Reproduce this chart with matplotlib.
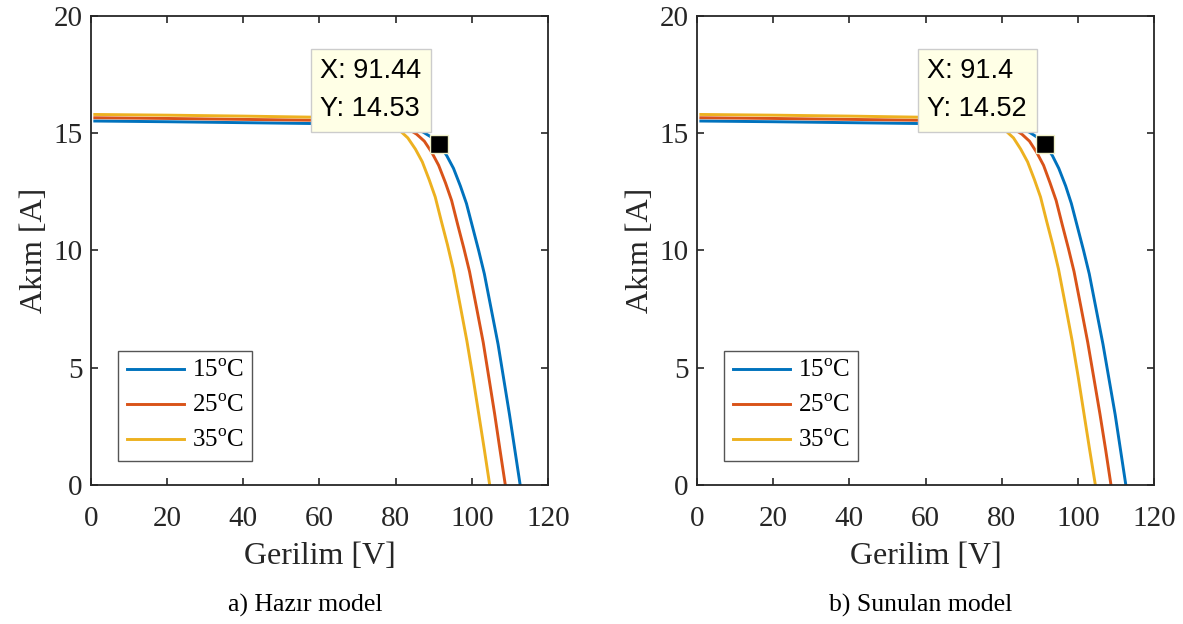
import matplotlib
matplotlib.use("Agg")
import matplotlib.pyplot as plt

plt.rcParams['font.family'] = ['Liberation Serif', 'DejaVu Serif']
plt.rcParams['mathtext.fontset'] = 'custom'
plt.rcParams['mathtext.rm'] = 'Liberation Serif'

# --- veriler (okunan degerler) ---
etiketler = ["15$^{\\rm o}$C", "25$^{\\rm o}$C", "35$^{\\rm o}$C"]
renkler = ["#0072BD", "#D95319", "#EDB120"]
alt_basliklar = ["a) Hazır model", "b) Sunulan model"]

# a) Hazir model
V15_a = [1, 20, 40, 60, 70, 76, 80.5, 83.6, 86.0, 87.2, 89.4, 91.44, 93.4, 95.2, 97.0, 98.6,
         100.2, 101.8, 103.3, 105.1, 106.9, 108.4, 109.9, 111.3, 112.7]
I15_a = [15.52, 15.49, 15.45, 15.41, 15.38, 15.35, 15.30, 15.23, 15.12, 15.05, 14.83, 14.53, 14.05,
         13.5, 12.75, 12.0, 11.0, 10.0, 9.0, 7.5, 6.0, 4.5, 3.0, 1.5, 0]
V25_a = [1, 20, 40, 60, 70, 74, 77, 79.7, 82.1, 83.3, 85.5, 87.54, 89.5, 91.3, 93.1, 94.7,
         96.3, 97.9, 99.4, 101.2, 103.0, 104.5, 106.0, 107.4, 108.8]
I25_a = [15.66, 15.63, 15.59, 15.55, 15.52, 15.48, 15.43, 15.36, 15.25, 15.18, 14.96, 14.66, 14.18,
         13.63, 12.88, 12.13, 11.1, 10.1, 9.1, 7.6, 6.08, 4.56, 3.03, 1.5, 0]
V35_a = [1, 20, 40, 60, 66, 70, 73, 75.5, 77.8, 79.0, 81.2, 83.2, 85.2, 87.0, 88.8, 90.4,
         92.0, 93.6, 95.1, 96.9, 98.7, 100.3, 101.8, 103.3, 104.7]
I35_a = [15.80, 15.77, 15.73, 15.68, 15.65, 15.62, 15.57, 15.50, 15.40, 15.32, 15.10, 14.80, 14.32,
         13.78, 13.02, 12.28, 11.25, 10.25, 9.22, 7.7, 6.15, 4.6, 3.05, 1.5, 0]

# b) Sunulan model
V15_b = [1, 20, 40, 60, 70, 76, 80.5, 83.6, 86.0, 87.2, 89.4, 91.4, 93.3, 95.0, 96.8, 98.3,
         99.9, 101.5, 103.0, 104.8, 106.6, 108.2, 109.8, 111.2, 112.6]
I15_b = [15.52, 15.49, 15.45, 15.41, 15.38, 15.35, 15.30, 15.23, 15.12, 15.05, 14.82, 14.52, 14.05,
         13.5, 12.75, 12.0, 11.0, 10.0, 9.0, 7.5, 6.0, 4.5, 3.0, 1.5, 0]
V25_b = [1, 20, 40, 60, 70, 74, 77, 79.7, 82.0, 83.2, 85.3, 87.3, 89.2, 91.0, 92.7, 94.3,
         95.9, 97.5, 99.0, 100.8, 102.6, 104.2, 105.8, 107.3, 108.7]
I25_b = [15.66, 15.63, 15.59, 15.55, 15.52, 15.48, 15.43, 15.36, 15.25, 15.18, 14.96, 14.66, 14.18,
         13.63, 12.88, 12.13, 11.1, 10.1, 9.1, 7.6, 6.08, 4.56, 3.03, 1.5, 0]
V35_b = [1, 20, 40, 60, 66, 70, 73, 75.5, 77.8, 79.0, 81.1, 83.1, 85.0, 86.8, 88.6, 90.2,
         91.8, 93.4, 94.9, 96.7, 98.5, 100.1, 101.6, 103.1, 104.6]
I35_b = [15.80, 15.77, 15.73, 15.68, 15.65, 15.62, 15.57, 15.50, 15.40, 15.32, 15.10, 14.80, 14.32,
         13.78, 13.02, 12.28, 11.25, 10.25, 9.22, 7.7, 6.15, 4.6, 3.05, 1.5, 0]

# imlec (data tip) noktalari
tip_a = (91.44, 14.53)
tip_b = (91.4, 14.52)

paneller = [
    ([(V15_a, I15_a), (V25_a, I25_a), (V35_a, I35_a)], tip_a, "X: 91.44\nY: 14.53"),
    ([(V15_b, I15_b), (V25_b, I25_b), (V35_b, I35_b)], tip_b, "X: 91.4\nY: 14.52"),
]

fig = plt.figure(figsize=(11.83, 6.24), dpi=100)
konumlar = [[0.0769, 0.2228, 0.3863, 0.7516], [0.5892, 0.2228, 0.3863, 0.7516]]
alt_x = [305 / 1183, 921 / 1183]
koyu = "#262626"

for k, (egriler, tip, tip_yazi) in enumerate(paneller):
    ax = fig.add_axes(konumlar[k])
    for (V, I), c, lbl in zip(egriler, renkler, etiketler):
        ax.plot(V, I, color=c, lw=2.1, label=lbl, solid_joinstyle='round')

    ax.set_xlim(0, 120)
    ax.set_ylim(0, 20)
    ax.set_xticks([0, 20, 40, 60, 80, 100, 120])
    ax.set_yticks([0, 5, 10, 15, 20])
    ax.tick_params(direction='in', top=True, right=True, length=5, width=1.2,
                   labelsize=21, colors=koyu)
    ax.tick_params(axis='x', pad=15)
    ax.tick_params(axis='y', pad=6)
    for s in ax.spines.values():
        s.set_color(koyu)
        s.set_linewidth(1.3)
    ax.set_xlabel("Gerilim [V]", fontsize=23, color=koyu, labelpad=7)
    ax.set_ylabel("Akım [A]", fontsize=23, color=koyu, labelpad=3)

    leg = ax.legend(loc='lower left', bbox_to_anchor=(0.059, 0.051), borderaxespad=0,
                    fontsize=18, handlelength=2.3, handletextpad=0.3, labelspacing=0.5,
                    borderpad=0.35, fancybox=False, framealpha=1)
    leg.get_frame().set_edgecolor("#555555")
    leg.get_frame().set_linewidth(1.0)

    # data tip
    ax.plot([tip[0]], [tip[1]], marker='s', ms=13, color='black',
            mec='#f0f0c8', mew=1.0, zorder=5)
    ax.annotate(tip_yazi, xy=tip, xytext=(-13, 16), textcoords='offset points',
                ha='right', va='bottom', multialignment='left', linespacing=1.6,
                fontsize=19.5, family=['Liberation Sans', 'DejaVu Sans'], color='black',
                bbox=dict(boxstyle='square,pad=0.35', fc='#FFFFE6', ec='#CCCCCC', lw=1.0),
                zorder=6)

    fig.text(alt_x[k], 0.029, alt_basliklar[k],
             ha='center', va='center', fontsize=18.5, color='black')

fig.savefig("out.png", dpi=100)
